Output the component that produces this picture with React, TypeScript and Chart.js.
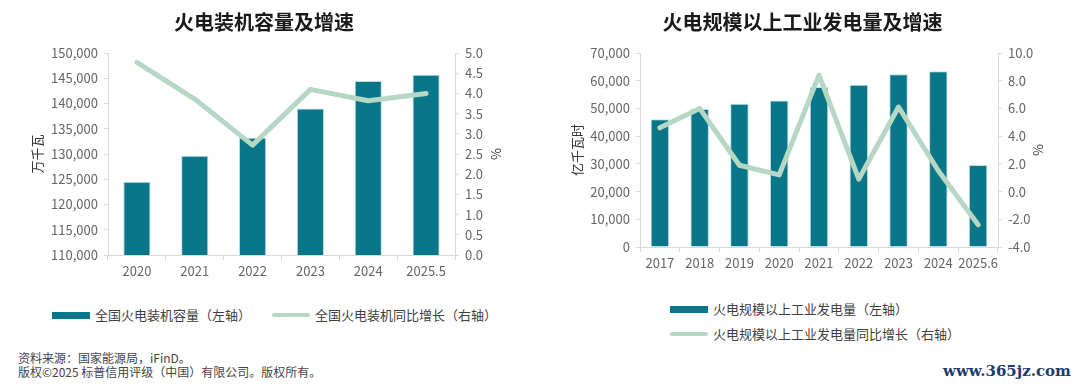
import React, { useEffect, useRef } from "react";
import { Chart, registerables } from "chart.js";

Chart.register(...registerables);

const capCategories = ["2020", "2021", "2022", "2023", "2024", "2025.5"];
const capValues = [124517, 129678, 133239, 139032, 144445, 145700];
const capGrowth = [4.77, 3.86, 2.72, 4.1, 3.82, 4.0];

const genCategories = ["2017", "2018", "2019", "2020", "2021", "2022", "2023", "2024", "2025.6"];
const genValues = [46115, 49795, 51654, 52900, 57703, 58531, 62318, 63438, 29600];
const genGrowth = [4.6, 6.0, 1.9, 1.2, 8.4, 0.9, 6.1, 1.5, -2.4];

const capLeftTitle = "万千瓦";
const genLeftTitle = "亿千瓦时";
const capChartTitle = "火电装机容量及增速";
const genChartTitle = "火电规模以上工业发电量及增速";
const capBarLabel = "全国火电装机容量（左轴）";
const capLineLabel = "全国火电装机同比增长（右轴）";
const genBarLabel = "火电规模以上工业发电量（左轴）";
const genLineLabel = "火电规模以上工业发电量同比增长（右轴）";

const FONT = "'Noto Sans CJK SC', 'Noto Sans', sans-serif";
const BAR = "#0a7689";
const BAR_BORDER = "#b9dde2";
const LINE = "#b5d7c3";
const AXIS = "#d9d9d9";
const TICK = "#666666";

type Cfg = {
  cats: string[];
  bars: number[];
  line: number[];
  title: string;
  leftTitle: string;
  yMin: number;
  yMax: number;
  yStep: number;
  rMin: number;
  rMax: number;
  rStep: number;
  leftW: number;
  rightW: number;
  xH: number;
  leftTitlePad: number;
  rightTitlePad: number;
  barPct: number;
};

function ComboChart({ cfg, width, height }: { cfg: Cfg; width: number; height: number }) {
  const ref = useRef<HTMLCanvasElement | null>(null);
  useEffect(() => {
    if (!ref.current) return;
    const chart = new Chart(ref.current, {
      type: "bar",
      data: {
        labels: cfg.cats,
        datasets: [
          {
            type: "line",
            label: "line",
            data: cfg.line,
            yAxisID: "y1",
            borderColor: LINE,
            backgroundColor: LINE,
            borderWidth: 5,
            pointRadius: 0,
            borderCapStyle: "round",
            borderJoinStyle: "round",
            tension: 0,
            order: 0,
          } as any,
          {
            type: "bar",
            label: "bar",
            data: cfg.bars,
            yAxisID: "y",
            backgroundColor: BAR,
            borderColor: BAR_BORDER,
            borderWidth: 1,
            borderSkipped: "bottom",
            barPercentage: cfg.barPct,
            categoryPercentage: 1,
            order: 1,
          } as any,
        ],
      },
      options: {
        responsive: false,
        animation: false,
        devicePixelRatio: 1,
        layout: { padding: { left: 0, right: 0, top: 0, bottom: 0 } },
        plugins: {
          legend: { display: false },
          tooltip: { enabled: false },
          title: {
            display: true,
            text: cfg.title,
            color: "#1a1a1a",
            font: { family: FONT, size: 20, weight: "bold" },
            padding: { top: 10, bottom: 19 },
          },
        },
        scales: {
          x: {
            offset: true,
            grid: {
              display: true,
              offset: true,
              drawOnChartArea: false,
              drawTicks: true,
              tickLength: 5,
              color: AXIS,
            },
            border: { display: true, color: AXIS },
            ticks: {
              color: TICK,
              font: { family: FONT, size: 13 },
              padding: 3,
              maxRotation: 0,
              autoSkip: false,
            },
            afterFit: (s: any) => {
              s.height = cfg.xH;
            },
          },
          y: {
            position: "left",
            min: cfg.yMin,
            max: cfg.yMax,
            grid: { display: true, drawOnChartArea: false, tickLength: 4, color: AXIS },
            border: { display: true, color: AXIS },
            ticks: {
              stepSize: cfg.yStep,
              color: TICK,
              font: { family: FONT, size: 13 },
              padding: 6,
              callback: (v: any) => Number(v).toLocaleString("en-US"),
            },
            title: {
              display: true,
              text: cfg.leftTitle,
              color: "#333333",
              font: { family: FONT, size: 13 },
              padding: { top: cfg.leftTitlePad, bottom: 0 },
            },
            afterFit: (s: any) => {
              s.width = cfg.leftW;
            },
          },
          y1: {
            position: "right",
            min: cfg.rMin,
            max: cfg.rMax,
            grid: { display: true, drawOnChartArea: false, tickLength: 4, color: AXIS },
            border: { display: true, color: AXIS },
            ticks: {
              stepSize: cfg.rStep,
              color: TICK,
              font: { family: FONT, size: 13 },
              padding: 6,
              callback: (v: any) => Number(v).toFixed(1),
            },
            title: {
              display: true,
              text: "%",
              color: "#333333",
              font: { family: FONT, size: 13 },
              padding: { top: cfg.rightTitlePad, bottom: 0 },
            },
            afterFit: (s: any) => {
              s.width = cfg.rightW;
            },
          },
        },
      } as any,
    });
    return () => chart.destroy();
  }, [cfg]);
  return <canvas ref={ref} width={width} height={height} style={{ display: "block", width, height }} />;
}

const capCfg: Cfg = {
  cats: capCategories,
  bars: capValues,
  line: capGrowth,
  title: capChartTitle,
  leftTitle: capLeftTitle,
  yMin: 110000,
  yMax: 150000,
  yStep: 5000,
  rMin: 0,
  rMax: 5,
  rStep: 0.5,
  leftW: 108,
  rightW: 73,
  xH: 35,
  leftTitlePad: 29,
  rightTitlePad: 24,
  barPct: 0.47,
};

const genCfg: Cfg = {
  cats: genCategories,
  bars: genValues,
  line: genGrowth,
  title: genChartTitle,
  leftTitle: genLeftTitle,
  yMin: 0,
  yMax: 70000,
  yStep: 10000,
  rMin: -4,
  rMax: 10,
  rStep: 2,
  leftW: 100,
  rightW: 67,
  xH: 43,
  leftTitlePad: 29,
  rightTitlePad: 19,
  barPct: 0.465,
};

const legendText: React.CSSProperties = {
  position: "absolute",
  fontFamily: FONT,
  fontSize: 13,
  color: "#404040",
  lineHeight: "16px",
  whiteSpace: "nowrap",
};

function Swatch({ x, y, kind }: { x: number; y: number; kind: "bar" | "line" }) {
  const h = kind === "bar" ? 7 : 4;
  return (
    <div
      style={{
        position: "absolute",
        left: x,
        top: y - h / 2,
        width: 38,
        height: h,
        background: kind === "bar" ? BAR : LINE,
        borderRadius: kind === "line" ? 2 : 0,
      }}
    />
  );
}

export default function App() {
  return (
    <div style={{ position: "absolute", left: 0, top: 0, width: 1080, height: 387, background: "#ffffff", overflow: "hidden" }}>
      <div style={{ position: "absolute", left: 0, top: 0 }}>
        <ComboChart cfg={capCfg} width={528} height={290} />
      </div>
      <div style={{ position: "absolute", left: 540, top: 0 }}>
        <ComboChart cfg={genCfg} width={525} height={290} />
      </div>

      <Swatch x={52} y={315} kind="bar" />
      <div style={{ ...legendText, left: 95, top: 307 }}>{capBarLabel}</div>
      <Swatch x={272} y={315} kind="line" />
      <div style={{ ...legendText, left: 315, top: 307 }}>{capLineLabel}</div>

      <Swatch x={670} y={309} kind="bar" />
      <div style={{ ...legendText, left: 713, top: 301 }}>{genBarLabel}</div>
      <Swatch x={670} y={334} kind="line" />
      <div style={{ ...legendText, left: 713, top: 326 }}>{genLineLabel}</div>

      <div style={{ ...legendText, left: 18, top: 350, fontSize: 12, color: "#444444" }}>资料来源：国家能源局，iFinD。</div>
      <div style={{ ...legendText, left: 18, top: 364, fontSize: 12, color: "#444444" }}>
        版权©2025 标普信用评级（中国）有限公司。版权所有。
      </div>
      <div
        style={{
          position: "absolute",
          left: 943,
          top: 362,
          fontFamily: "'DejaVu Serif', 'Liberation Serif', serif",
          fontWeight: "bold",
          fontSize: 15,
          color: "#1d3b6b",
          whiteSpace: "nowrap",
        }}
      >
        www.365jz.com
      </div>
    </div>
  );
}
